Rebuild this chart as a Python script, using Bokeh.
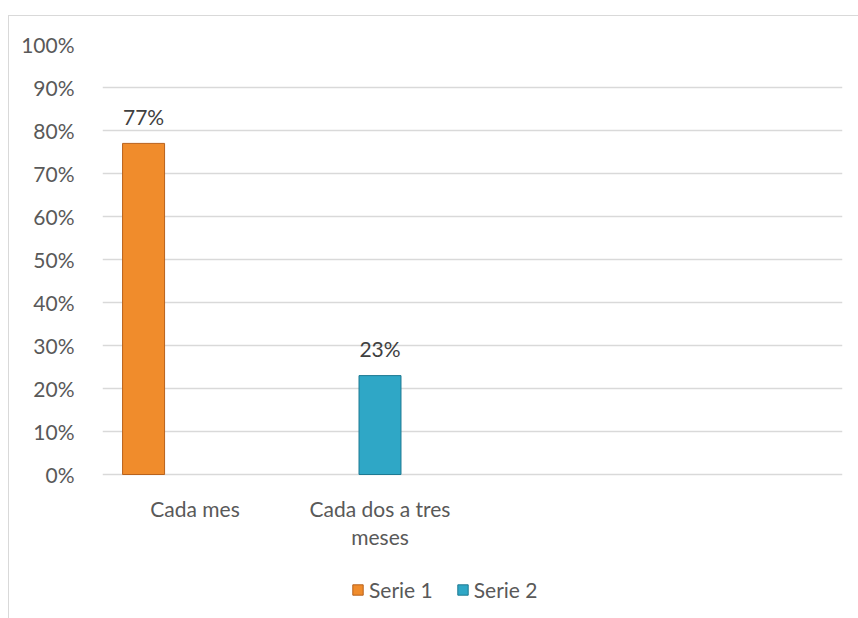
from bokeh.plotting import figure
from bokeh.models import ColumnDataSource, FixedTicker, Legend, LegendItem, NumeralTickFormatter, Range1d
from bokeh.core.properties import value
from bokeh.embed import file_html
from bokeh.resources import INLINE

categories = ["Cada mes", "Cada dos a tres", "", ""]
categories_line2 = ["", "meses", "", ""]
serie1 = [0.77, None, None, None]
serie2 = [None, 0.23, None, None]
series_names = ["Serie 1", "Serie 2"]
y_ticks = [0.0, 0.1, 0.2, 0.3, 0.4, 0.5, 0.6, 0.7, 0.8, 0.9, 1.0]

FONT = "Lato"
FS = "21px"
GREY = "#595959"
colors = ["#F08C2C", "#2FA7C6"]
edges = ["#B8621C", "#1E7A92"]
offsets = [-0.278, 0.0]
bar_w = 0.227

FRAME_H = 430      # pixel height of the 0..100% span
BELOW_H = 145      # pixels below the 0% line inside the frame (labels + legend)

xs = list(range(1, len(categories) + 1))

p = figure(width=850, height=603, output_backend="svg", toolbar_location=None,
           x_axis_location=None,
           x_range=Range1d(0.5, len(categories) + 0.5),
           y_range=Range1d(-BELOW_H / FRAME_H, 1),
           min_border_left=93, min_border_right=17, min_border_top=28, min_border_bottom=0,
           styles={"margin-left": "8px", "margin-top": "15px",
                   "border-left": "1.5px solid #d9d9d9", "border-top": "1.5px solid #d9d9d9"})
p.outline_line_color = None
p.background_fill_color = "white"
p.border_fill_color = "white"

renderers = []
for vals, col, edge, off in zip([serie1, serie2], colors, edges, offsets):
    xv = [x + off for x, v in zip(xs, vals) if v is not None]
    yv = [v for v in vals if v is not None]
    src = ColumnDataSource(dict(x=xv, top=yv, lbl=[f"{round(v*100)}%" for v in yv]))
    r = p.vbar(x="x", top="top", bottom=0, width=bar_w, source=src,
               fill_color=col, line_color=edge, line_width=1)
    p.text(x="x", y="top", text="lbl", source=src, text_font=value(FONT),
           text_font_size=FS, text_color="#404040", text_align="center",
           text_baseline="alphabetic", y_offset=-27)
    renderers.append(r)

# category labels under the 0% line
for line, dy in ((categories, 34), (categories_line2, 62)):
    lx = [x for x, c in zip(xs, line) if c]
    lt = [c for c in line if c]
    p.text(x=lx, y=[0] * len(lx), text=lt, text_font=value(FONT), text_font_size=FS,
           text_color=GREY, text_align="center", text_baseline="middle", y_offset=dy)

p.yaxis.ticker = FixedTicker(ticks=y_ticks)
p.yaxis.formatter = NumeralTickFormatter(format="0%")
ax = p.yaxis[0]
ax.axis_line_color = None
ax.major_tick_line_color = None
ax.minor_tick_line_color = None
ax.major_label_text_font = FONT
ax.major_label_text_font_size = FS
ax.major_label_text_color = GREY
ax.major_label_standoff = 22
p.xgrid.grid_line_color = None
p.ygrid.ticker = FixedTicker(ticks=y_ticks)
p.ygrid.grid_line_color = "#d9d9d9"
p.ygrid.grid_line_width = 1.5

legend = Legend(items=[LegendItem(label=n, renderers=[r]) for n, r in zip(series_names, renderers)],
                orientation="horizontal", location=(249, 17),
                label_text_font=FONT, label_text_font_size=FS, label_text_color=GREY,
                glyph_width=13, glyph_height=13, spacing=23, label_standoff=5, padding=2, margin=0,
                border_line_color=None, background_fill_alpha=0)
p.add_layout(legend, "center")

open("out.html", "w").write(file_html(p, INLINE))
